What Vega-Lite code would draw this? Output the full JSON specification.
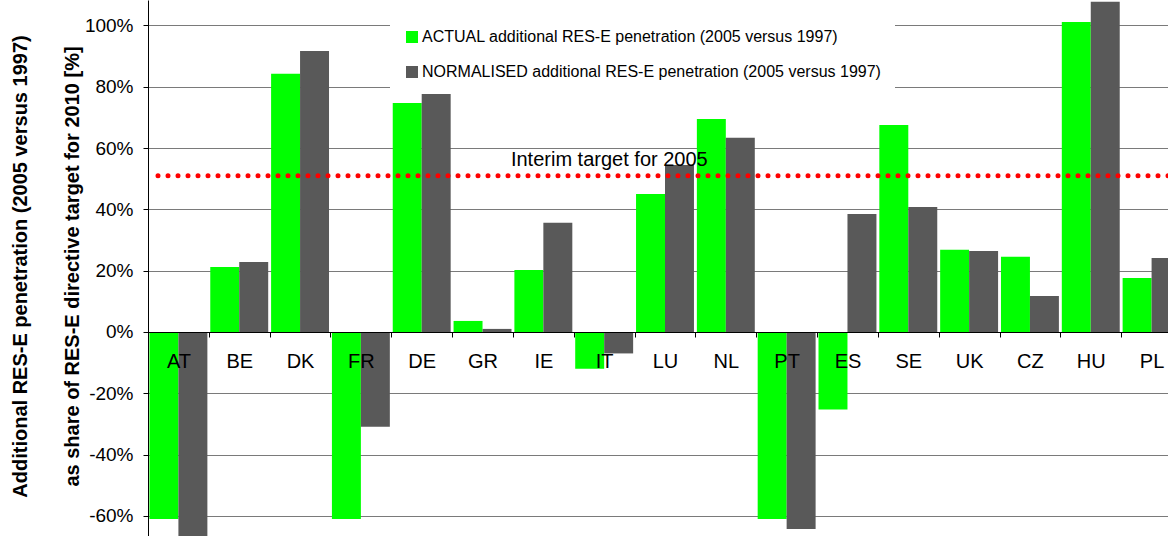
{
  "$schema": "https://vega.github.io/schema/vega-lite/v6.json",
  "width": 1020,
  "height": 536,
  "autosize": {"type": "none"},
  "padding": {"left": 148, "top": 0, "right": 0, "bottom": 0},
  "config": {"view": {"stroke": null}, "font": "Liberation Sans"},
  "data": {
    "values": [
      {"country": "AT", "series": "ACTUAL additional RES-E penetration (2005 versus 1997)", "value": -0.61},
      {"country": "AT", "series": "NORMALISED additional RES-E penetration (2005 versus 1997)", "value": -0.70},
      {"country": "BE", "series": "ACTUAL additional RES-E penetration (2005 versus 1997)", "value": 0.212},
      {"country": "BE", "series": "NORMALISED additional RES-E penetration (2005 versus 1997)", "value": 0.228},
      {"country": "DK", "series": "ACTUAL additional RES-E penetration (2005 versus 1997)", "value": 0.842},
      {"country": "DK", "series": "NORMALISED additional RES-E penetration (2005 versus 1997)", "value": 0.917},
      {"country": "FR", "series": "ACTUAL additional RES-E penetration (2005 versus 1997)", "value": -0.61},
      {"country": "FR", "series": "NORMALISED additional RES-E penetration (2005 versus 1997)", "value": -0.309},
      {"country": "DE", "series": "ACTUAL additional RES-E penetration (2005 versus 1997)", "value": 0.747},
      {"country": "DE", "series": "NORMALISED additional RES-E penetration (2005 versus 1997)", "value": 0.786},
      {"country": "GR", "series": "ACTUAL additional RES-E penetration (2005 versus 1997)", "value": 0.036},
      {"country": "GR", "series": "NORMALISED additional RES-E penetration (2005 versus 1997)", "value": 0.010},
      {"country": "IE", "series": "ACTUAL additional RES-E penetration (2005 versus 1997)", "value": 0.202},
      {"country": "IE", "series": "NORMALISED additional RES-E penetration (2005 versus 1997)", "value": 0.356},
      {"country": "IT", "series": "ACTUAL additional RES-E penetration (2005 versus 1997)", "value": -0.120},
      {"country": "IT", "series": "NORMALISED additional RES-E penetration (2005 versus 1997)", "value": -0.070},
      {"country": "LU", "series": "ACTUAL additional RES-E penetration (2005 versus 1997)", "value": 0.450},
      {"country": "LU", "series": "NORMALISED additional RES-E penetration (2005 versus 1997)", "value": 0.545},
      {"country": "NL", "series": "ACTUAL additional RES-E penetration (2005 versus 1997)", "value": 0.695},
      {"country": "NL", "series": "NORMALISED additional RES-E penetration (2005 versus 1997)", "value": 0.634},
      {"country": "PT", "series": "ACTUAL additional RES-E penetration (2005 versus 1997)", "value": -0.61},
      {"country": "PT", "series": "NORMALISED additional RES-E penetration (2005 versus 1997)", "value": -0.643},
      {"country": "ES", "series": "ACTUAL additional RES-E penetration (2005 versus 1997)", "value": -0.253},
      {"country": "ES", "series": "NORMALISED additional RES-E penetration (2005 versus 1997)", "value": 0.385},
      {"country": "SE", "series": "ACTUAL additional RES-E penetration (2005 versus 1997)", "value": 0.675},
      {"country": "SE", "series": "NORMALISED additional RES-E penetration (2005 versus 1997)", "value": 0.408},
      {"country": "UK", "series": "ACTUAL additional RES-E penetration (2005 versus 1997)", "value": 0.268},
      {"country": "UK", "series": "NORMALISED additional RES-E penetration (2005 versus 1997)", "value": 0.264},
      {"country": "CZ", "series": "ACTUAL additional RES-E penetration (2005 versus 1997)", "value": 0.245},
      {"country": "CZ", "series": "NORMALISED additional RES-E penetration (2005 versus 1997)", "value": 0.117},
      {"country": "HU", "series": "ACTUAL additional RES-E penetration (2005 versus 1997)", "value": 1.011},
      {"country": "HU", "series": "NORMALISED additional RES-E penetration (2005 versus 1997)", "value": 1.077},
      {"country": "PL", "series": "ACTUAL additional RES-E penetration (2005 versus 1997)", "value": 0.176},
      {"country": "PL", "series": "NORMALISED additional RES-E penetration (2005 versus 1997)", "value": 0.241}
    ]
  },
  "layer": [
    {
      "mark": {"type": "bar", "clip": true},
      "encoding": {
        "x": {
          "field": "country",
          "type": "nominal",
          "sort": null,
          "scale": {
            "domain": ["AT", "BE", "DK", "FR", "DE", "GR", "IE", "IT", "LU", "NL", "PT", "ES", "SE", "UK", "CZ", "HU", "PL"],
            "range": [0, 1034],
            "paddingInner": 0,
            "paddingOuter": 0
          },
          "axis": {
            "title": null,
            "orient": "bottom",
            "offset": -204,
            "tickBand": "extent",
            "tickSize": 5,
            "tickColor": "black",
            "domainColor": "black",
            "labelFontSize": 20,
            "labelPadding": 14,
            "labelColor": "black",
            "labelAngle": 0,
            "grid": false,
            "zindex": 1
          }
        },
        "xOffset": {
          "field": "series",
          "type": "nominal",
          "sort": ["ACTUAL additional RES-E penetration (2005 versus 1997)", "NORMALISED additional RES-E penetration (2005 versus 1997)"],
          "scale": {"paddingInner": 0, "paddingOuter": 0.05}
        },
        "y": {
          "field": "value",
          "type": "quantitative",
          "scale": {"domain": [-0.6656, 1.083], "nice": false, "zero": false},
          "axis": {
            "values": [-0.6, -0.4, -0.2, 0, 0.2, 0.4, 0.6, 0.8, 1.0],
            "format": ".0%",
            "labelExpr": "replace(datum.label, '\u2212', '-')",
            "labelFontSize": 19,
            "labelPadding": 10,
            "labelColor": "black",
            "tickSize": 5,
            "tickColor": "black",
            "domainColor": "black",
            "gridColor": "#7a7a7a",
            "gridWidth": 1,
            "title": ["Additional RES-E penetration (2005 versus 1997)", "as share of RES-E directive target for 2010 [%]"],
            "titleFontSize": 20,
            "titleFontWeight": "bold",
            "titleColor": "black",
            "titleLineHeight": 52,
            "titleX": -128,
            "titleY": 266,
            "titleAngle": 270,
            "titleAlign": "center",
            "titleBaseline": "middle"
          }
        },
        "color": {
          "field": "series",
          "type": "nominal",
          "scale": {
            "domain": ["ACTUAL additional RES-E penetration (2005 versus 1997)", "NORMALISED additional RES-E penetration (2005 versus 1997)"],
            "range": ["#00ff00", "#595959"]
          },
          "legend": {
            "orient": "none",
            "legendX": 242,
            "legendY": 15,
            "title": null,
            "fillColor": "white",
            "padding": 14,
            "symbolType": "square",
            "symbolSize": 144,
            "symbolStrokeWidth": 0,
            "labelFontSize": 16,
            "labelColor": "black",
            "labelLimit": 700,
            "labelOffset": 2,
            "rowPadding": 19
          }
        }
      }
    },
    {
      "data": {"values": [{"target": 0.51}]},
      "mark": {"type": "rule", "color": "#ff0000", "strokeWidth": 5, "strokeDash": [0, 10], "strokeCap": "round"},
      "encoding": {"y": {"field": "target", "type": "quantitative"}}
    },
    {
      "data": {"values": [{"target": 0.51, "label": "Interim target for 2005", "anchor": "IE"}]},
      "mark": {"type": "text", "align": "left", "baseline": "alphabetic", "dy": -10, "dx": -2, "fontSize": 20, "color": "black"},
      "encoding": {
        "x": {"field": "anchor", "type": "nominal", "bandPosition": 0},
        "y": {"field": "target", "type": "quantitative"},
        "text": {"field": "label"}
      }
    }
  ]
}
